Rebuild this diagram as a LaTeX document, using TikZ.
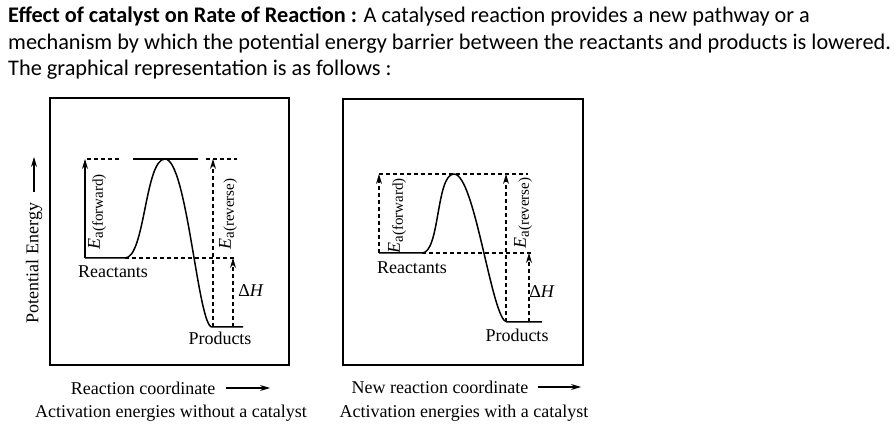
\documentclass[tikz,border=0pt]{standalone}
\usepackage{fontspec}
\setmainfont{Liberation Serif}
\newfontfamily\headfont{Carlito}
\usetikzlibrary{arrows.meta}

\begin{document}
\begin{tikzpicture}[x=1pt, y=-1pt, every node/.style={font=\fontsize{18}{20}\selectfont, inner sep=0pt}]
  \tikzstyle{panel}=[draw, line width=1.2pt]
  \tikzstyle{barrier}=[line width=1.5pt, line join=round]
  \tikzstyle{plateau}=[line width=1.4pt]
  \tikzstyle{guide}=[dash pattern=on 4pt off 3pt, line width=1.1pt]
  \tikzstyle{uparrow}=[-{Stealth[length=10pt, width=6pt]}]
  \tikzstyle{header}=[font=\headfont\fontsize{22.3}{26}\selectfont, anchor=base west]
  \tikzstyle{vlabel}=[rotate=90]
  \newcommand{\ealabel}[1]{{\itshape E}\raisebox{-3pt}{\fontsize{15}{16}\selectfont a(#1)}}
  \useasboundingbox (0,0) rectangle (895,430);

  % header text
  \node[header] (head1) at (8,23) {\textbf{Effect of catalyst on Rate of Reaction :} A catalysed reaction provides a new pathway or a};
  \node[header] (head2) at (8,50) {mechanism by which the potential energy barrier between the reactants and products is lowered.};
  \node[header] (head3) at (8,76) {The graphical representation is as follows :};

  % axis label
  \node[vlabel] (pe) at (34,263) {Potential Energy};
  \coordinate (pe0) at (34,192);
  \coordinate (pe1) at (34,157);
  \draw[uparrow, line width=1.1pt] (pe0) -- (pe1);

  % left panel: without catalyst
  \draw[panel] (50,98) rectangle (289,365);
  \coordinate (lA) at (85,258);
  \coordinate (lB) at (125,258);
  \coordinate (lT) at (165,159);
  \coordinate (lC) at (212,327);
  \coordinate (lD) at (243,327);
  \coordinate (lF) at (85,159);
  \draw[barrier] (lA) -- (lB) .. controls (145,258) and (145,159) .. (lT)
    .. controls (187,159) and (198,327) .. (lC) -- (lD);
  \draw[plateau] (133,159) -- (198,159);
  \draw[uparrow, line width=1.2pt] (lA) -- (lF);
  \draw[guide] (87,159) -- (120,159);
  \draw[guide] (206,159) -- (237,159);
  \draw[guide] (lB) -- (236,258);
  \coordinate (lE0) at (213,327);
  \coordinate (lE1) at (213,159);
  \draw[guide, uparrow] (lE0) -- (lE1);
  \coordinate (lH0) at (233,327);
  \coordinate (lH1) at (233,258);
  \draw[guide, uparrow] (lH0) -- (lH1);
  \node[vlabel] (lEf) at (97,212) {\ealabel{forward}};
  \node[vlabel] (lEr) at (228,214) {\ealabel{reverse}};
  \node (lReact) at (113,272) {Reactants};
  \node (lProd) at (220,338) {Products};
  \node (lDH) at (251,291) {Δ\textit{H}};

  % right panel: with catalyst
  \draw[panel] (343,99) rectangle (583,365);
  \coordinate (rA) at (379,253);
  \coordinate (rB) at (422,253);
  \coordinate (rT) at (454,174);
  \coordinate (rC) at (507,322);
  \coordinate (rD) at (542,322);
  \coordinate (rF) at (379,174);
  \draw[barrier] (rA) -- (rB) .. controls (440,253) and (436,174) .. (rT)
    .. controls (475,174) and (492,322) .. (rC) -- (rD);
  \draw[guide, uparrow] (rA) -- (rF);
  \draw[guide] (rF) -- (528,174);
  \draw[guide] (rB) -- (532,253);
  \coordinate (rE0) at (506,322);
  \coordinate (rE1) at (506,174);
  \draw[guide, uparrow] (rE0) -- (rE1);
  \coordinate (rH0) at (529,322);
  \coordinate (rH1) at (529,253);
  \draw[guide, uparrow] (rH0) -- (rH1);
  \node[vlabel] (rEf) at (397,216) {\ealabel{forward}};
  \node[vlabel] (rEr) at (523,213) {\ealabel{reverse}};
  \node (rReact) at (412,268) {Reactants};
  \node (rProd) at (517,335) {Products};
  \node (rDH) at (542,292) {Δ\textit{H}};

  % bottom captions
  \node (lAxis) at (143,388) {Reaction coordinate};
  \coordinate (lx0) at (226,388);
  \coordinate (lx1) at (270,388);
  \draw[-{Stealth[length=10pt, width=6pt]}, line width=1.1pt] (lx0) -- (lx1);
  \node (lCap) at (171,413) {Activation energies without a catalyst};
  \node (rAxis) at (440,387) {New reaction coordinate};
  \coordinate (rx0) at (538,387);
  \coordinate (rx1) at (581,387);
  \draw[-{Stealth[length=10pt, width=6pt]}, line width=1.1pt] (rx0) -- (rx1);
  \node (rCap) at (464,413) {Activation energies with a catalyst};
\end{tikzpicture}
\end{document}
